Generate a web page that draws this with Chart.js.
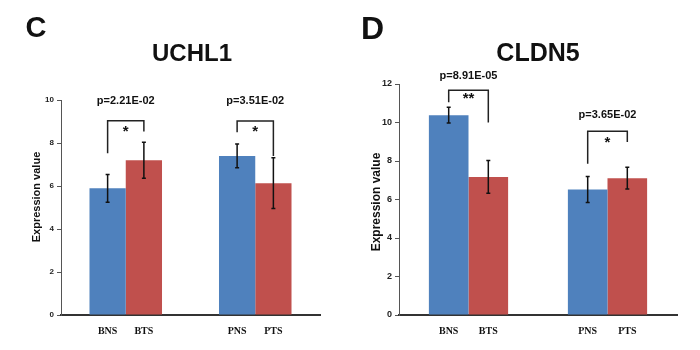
<!DOCTYPE html>
<html>
<head>
<meta charset="utf-8">
<script src="https://cdn.jsdelivr.net/npm/chart.js@4.4.0/dist/chart.umd.min.js"></script>
<style>
  body { margin: 0; background: #fff; }
  #wrap { position: relative; width: 700px; height: 350px; background: #fff; }
  canvas { position: absolute; top: 0; }
</style>
</head>
<body>
<div id="wrap">
  <canvas id="chartC" width="350" height="350" style="left:0"></canvas>
  <canvas id="chartD" width="350" height="350" style="left:350px"></canvas>
</div>
<script>
// two groups per panel, normal vs tumour
const groups = ['B', 'P'];
const normalLabels = ['BNS', 'PNS'];
const tumorLabels = ['BTS', 'PTS'];

const uchl1Normal = [5.89, 7.40];
const uchl1NormalErr = [0.65, 0.55];
const uchl1Tumor = [7.20, 6.13];
const uchl1TumorErr = [0.84, 1.18];
const uchl1PValues = ['p=2.21E-02', 'p=3.51E-02'];
const uchl1Stars = ['*', '*'];
const uchl1Ticks = [0, 2, 4, 6, 8, 10];

const cldn5Normal = [10.38, 6.52];
const cldn5NormalErr = [0.41, 0.68];
const cldn5Tumor = [7.17, 7.11];
const cldn5TumorErr = [0.85, 0.57];
const cldn5PValues = ['p=8.91E-05', 'p=3.65E-02'];
const cldn5Stars = ['**', '*'];
const cldn5Ticks = [0, 2, 4, 6, 8, 10, 12];

const SANS = '"Liberation Sans", Arial, sans-serif';
const SERIF = '"Liberation Serif", "Times New Roman", serif';

// text centred on its cap height
function capText(ctx, text, x, cy, size, family) {
  ctx.font = 'bold ' + size + 'px ' + (family || SANS);
  ctx.textAlign = 'center';
  ctx.textBaseline = 'alphabetic';
  ctx.fillText(text, x, cy + size * 0.36);
}

const overlay = {
  id: 'overlay',
  afterDatasetsDraw(chart, args, opts) {
    const ctx = chart.ctx;
    const y = chart.scales.y;
    const area = chart.chartArea;
    ctx.save();

    // error bars
    opts.errors.forEach((errs, di) => {
      const meta = chart.getDatasetMeta(di);
      const vals = chart.data.datasets[di].data;
      meta.data.forEach((bar, i) => {
        const top = y.getPixelForValue(vals[i] + errs[i]);
        const bot = y.getPixelForValue(vals[i] - errs[i]);
        ctx.strokeStyle = '#111';
        ctx.lineWidth = 1.5;
        ctx.beginPath();
        ctx.moveTo(bar.x, top); ctx.lineTo(bar.x, bot);
        ctx.moveTo(bar.x - 2, top); ctx.lineTo(bar.x + 2, top);
        ctx.moveTo(bar.x - 2, bot); ctx.lineTo(bar.x + 2, bot);
        ctx.stroke();
      });
    });

    // significance brackets, stars and p values
    const nMeta = chart.getDatasetMeta(0);
    const tMeta = chart.getDatasetMeta(1);
    opts.brackets.forEach((b, i) => {
      const x1 = nMeta.data[i].x;
      const x2 = tMeta.data[i].x;
      ctx.strokeStyle = '#222';
      ctx.lineWidth = 1.5;
      ctx.beginPath();
      ctx.moveTo(x1, y.getPixelForValue(b.left));
      ctx.lineTo(x1, y.getPixelForValue(b.top));
      ctx.lineTo(x2, y.getPixelForValue(b.top));
      ctx.lineTo(x2, y.getPixelForValue(b.right));
      ctx.stroke();
      ctx.fillStyle = '#111';
      ctx.font = 'bold 15px ' + SANS;
      ctx.textAlign = 'center';
      ctx.textBaseline = 'alphabetic';
      ctx.fillText(opts.stars[i], (x1 + x2) / 2, y.getPixelForValue(b.star) + 8.5);
      capText(ctx, opts.pValues[i], (x1 + x2) / 2, y.getPixelForValue(b.p), opts.pSize);
    });

    // bar labels under the axis
    ctx.fillStyle = '#111';
    nMeta.data.forEach((bar, i) => capText(ctx, normalLabels[i], bar.x, area.bottom + 15, 10, SERIF));
    tMeta.data.forEach((bar, i) => capText(ctx, tumorLabels[i], bar.x, area.bottom + 15, 10, SERIF));

    // axis title
    ctx.save();
    ctx.translate(opts.yTitle.x, opts.yTitle.y);
    ctx.rotate(-Math.PI / 2);
    ctx.font = 'bold ' + opts.yTitle.size + 'px ' + SANS;
    ctx.textAlign = 'center';
    ctx.textBaseline = 'middle';
    ctx.fillText('Expression value', 0, 0);
    ctx.restore();

    // panel letter and gene name
    capText(ctx, opts.letter.text, opts.letter.x, opts.letter.y, opts.letter.size);
    capText(ctx, opts.title.text, opts.title.x, opts.title.y, opts.title.size);
    ctx.restore();
  }
};

function makeChart(id, normal, tumor, ticks, cfg) {
  return new Chart(document.getElementById(id), {
    type: 'bar',
    data: {
      labels: groups,
      datasets: [
        { data: normal, backgroundColor: '#4F81BD', categoryPercentage: cfg.catPct, barPercentage: 1 },
        { data: tumor, backgroundColor: '#C0504D', categoryPercentage: cfg.catPct, barPercentage: 1 }
      ]
    },
    options: {
      responsive: false,
      animation: false,
      layout: { padding: cfg.padding },
      plugins: {
        legend: { display: false },
        tooltip: { enabled: false },
        overlay: cfg.overlay
      },
      scales: {
        x: {
          grid: { drawOnChartArea: false, drawTicks: false },
          border: { color: '#333', width: 2 },
          ticks: { display: false },
          afterFit: s => { s.height = 35; }
        },
        y: {
          min: ticks[0],
          max: ticks[ticks.length - 1],
          afterBuildTicks: s => { s.ticks = ticks.map(v => ({ value: v })); },
          ticks: { color: '#222', padding: 3, font: { family: SANS, weight: 'bold', size: cfg.tickSize } },
          grid: { drawOnChartArea: false, tickLength: 4, color: '#555' },
          border: { color: '#555', width: 1 },
          afterFit: s => { s.width = cfg.yWidth; }
        }
      }
    },
    plugins: [overlay]
  });
}

makeChart('chartC', uchl1Normal, uchl1Tumor, uchl1Ticks, {
  catPct: 0.56,
  padding: { top: 100, right: 30, left: 0, bottom: 0 },
  yWidth: 61,
  tickSize: 8,
  overlay: {
    errors: [uchl1NormalErr, uchl1TumorErr],
    stars: uchl1Stars,
    pValues: uchl1PValues,
    pSize: 11,
    brackets: [
      { left: 7.52, top: 9.04, right: 8.53, star: 8.71, p: 10.02 },
      { left: 8.50, top: 9.02, right: 7.40, star: 8.71, p: 10.02 }
    ],
    yTitle: { x: 37, y: 197, size: 11 },
    letter: { text: 'C', x: 36, y: 27, size: 29 },
    title: { text: 'UCHL1', x: 192, y: 52, size: 24 }
  }
});

makeChart('chartD', cldn5Normal, cldn5Tumor, cldn5Ticks, {
  catPct: 0.57,
  padding: { top: 84, right: 23, left: 0, bottom: 0 },
  yWidth: 49,
  tickSize: 9,
  overlay: {
    errors: [cldn5NormalErr, cldn5TumorErr],
    stars: cldn5Stars,
    pValues: cldn5PValues,
    pSize: 11,
    brackets: [
      { left: 11.05, top: 11.67, right: 10.0, star: 11.48, p: 12.49 },
      { left: 7.86, top: 9.54, right: 8.99, star: 9.19, p: 10.44 }
    ],
    yTitle: { x: 27, y: 202, size: 12 },
    letter: { text: 'D', x: 22.5, y: 27, size: 32 },
    title: { text: 'CLDN5', x: 188, y: 52, size: 25 }
  }
});
</script>
</body>
</html>
